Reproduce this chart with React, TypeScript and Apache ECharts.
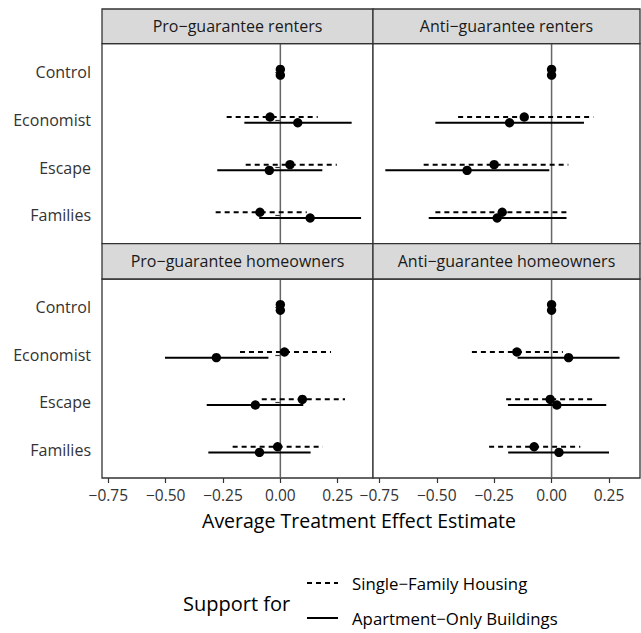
import React, { useEffect, useRef } from "react";
import * as echarts from "echarts";

const categories = ["Control", "Economist", "Escape", "Families"];
const panelTitles = [
  "Pro\u2212guarantee renters",
  "Anti\u2212guarantee renters",
  "Pro\u2212guarantee homeowners",
  "Anti\u2212guarantee homeowners",
];
const xTicks = [-0.75, -0.5, -0.25, 0, 0.25];

// Single-Family Housing (dashed)
const sfEst = [
  [0, -0.045, 0.042, -0.089],
  [0, -0.119, -0.25, -0.215],
  [0, 0.018, 0.096, -0.012],
  [0, -0.151, -0.006, -0.076],
];
const sfLo = [
  [0, -0.234, -0.151, -0.282],
  [0, -0.407, -0.557, -0.506],
  [0, -0.176, -0.081, -0.208],
  [0, -0.347, -0.198, -0.272],
];
const sfHi = [
  [0, 0.163, 0.246, 0.115],
  [0, 0.182, 0.073, 0.076],
  [0, 0.221, 0.282, 0.185],
  [0, 0.049, 0.187, 0.125],
];

// Apartment-Only Buildings (solid)
const apEst = [
  [0, 0.076, -0.048, 0.13],
  [0, -0.183, -0.368, -0.237],
  [0, -0.279, -0.109, -0.091],
  [0, 0.074, 0.023, 0.032],
];
const apLo = [
  [0, -0.157, -0.275, -0.092],
  [0, -0.506, -0.724, -0.535],
  [0, -0.503, -0.321, -0.314],
  [0, -0.148, -0.19, -0.189],
];
const apHi = [
  [0, 0.311, 0.183, 0.352],
  [0, 0.141, -0.01, 0.065],
  [0, -0.052, 0.1, 0.132],
  [0, 0.296, 0.238, 0.25],
];

const FONT = "Open Sans";

export default function App() {
  const ref = useRef<HTMLDivElement>(null);
  useEffect(() => {
    if (!ref.current) return;
    const chart = echarts.init(ref.current, null, { renderer: "svg" });

    const grids = [
      { left: 102, top: 43.7, width: 271, height: 200 },
      { left: 373, top: 43.7, width: 267, height: 200 },
      { left: 102, top: 279, width: 271, height: 199 },
      { left: 373, top: 279, width: 267, height: 199 },
    ];
    const xMax = [0.404, 0.385, 0.404, 0.385];
    const dodge = 0.06;

    const fmt = (v: number) => (v < 0 ? "\u2212" : "") + Math.abs(v).toFixed(2);

    const xAxes = grids.map((_, i) => ({
      type: "value",
      gridIndex: i,
      min: -0.7776,
      max: xMax[i],
      splitLine: { show: false },
      axisLine: { show: false },
      axisTick: {
        show: i >= 2,
        length: 5,
        customValues: xTicks,
        lineStyle: { color: "#333", width: 1.2 },
      },
      axisLabel: {
        show: i >= 2,
        customValues: xTicks,
        formatter: fmt,
        margin: 9,
        fontFamily: FONT,
        fontSize: 15.5,
        lineHeight: 16,
        color: "#333",
      },
    }));
    const yVals = categories.map((_, k) => k + 1);
    const yAxes = grids.map((_, i) => ({
      type: "value",
      gridIndex: i,
      min: 0.4,
      max: 4.6,
      inverse: true,
      splitLine: { show: false },
      axisLine: { show: false },
      axisTick: {
        show: i % 2 === 0,
        length: 5,
        customValues: yVals,
        lineStyle: { color: "#333", width: 1.2 },
      },
      axisLabel: {
        show: i % 2 === 0,
        customValues: yVals,
        formatter: (v: number) => categories[Math.round(v) - 1] || "",
        margin: 11,
        fontFamily: FONT,
        fontSize: 16,
        color: "#333",
      },
    }));

    const renderErr = (dashed: boolean) => (params: any, api: any) => {
      const y = api.value(3);
      const a = api.coord([api.value(0), y]);
      const b = api.coord([api.value(1), y]);
      const p = api.coord([api.value(2), y]);
      return {
        type: "group",
        children: [
          {
            type: "line",
            shape: { x1: a[0], y1: a[1], x2: b[0], y2: b[1] },
            style: {
              stroke: "#000",
              lineWidth: 2,
              lineDash: dashed ? [5, 4] : null,
              fill: null,
            },
          },
          {
            type: "circle",
            shape: { cx: p[0], cy: p[1], r: 4.7 },
            style: { fill: "#000" },
          },
        ],
      };
    };

    const series: any[] = [];
    grids.forEach((_, i) => {
      series.push({
        type: "line",
        xAxisIndex: i,
        yAxisIndex: i,
        data: [
          [0, 0.4],
          [0, 4.6],
        ],
        symbol: "none",
        lineStyle: { color: "#666", width: 1.5 },
        silent: true,
        z: 1,
      });
      series.push({
        type: "custom",
        xAxisIndex: i,
        yAxisIndex: i,
        renderItem: renderErr(true),
        encode: { x: [0, 1, 2], y: 3 },
        data: categories.map((_, k) => [sfLo[i][k], sfHi[i][k], sfEst[i][k], k + 1 - dodge]),
        z: 2,
      });
      series.push({
        type: "custom",
        xAxisIndex: i,
        yAxisIndex: i,
        renderItem: renderErr(false),
        encode: { x: [0, 1, 2], y: 3 },
        data: categories.map((_, k) => [apLo[i][k], apHi[i][k], apEst[i][k], k + 1 + dodge]),
        z: 3,
      });
    });

    const stripY = [9, 9, 243.7, 243.7];
    const stripH = [34.7, 34.7, 35.3, 35.3];
    const graphics: any[] = [];
    grids.forEach((g, i) => {
      graphics.push({
        type: "rect",
        shape: { x: g.left, y: stripY[i], width: g.width, height: stripH[i] },
        style: { fill: "#d9d9d9", stroke: "#333", lineWidth: 1.3 },
        z: 10,
      });
      graphics.push({
        type: "text",
        x: g.left + g.width / 2,
        y: stripY[i] + stripH[i] / 2,
        style: {
          text: panelTitles[i],
          fontFamily: FONT,
          fontSize: 16,
          fill: "#1a1a1a",
          align: "center",
          verticalAlign: "middle",
        },
        z: 11,
      });
    });
    graphics.push({
      type: "text",
      x: 359,
      y: 520,
      style: {
        text: "Average Treatment Effect Estimate",
        fontFamily: FONT,
        fontSize: 19.5,
        lineHeight: 20,
        fill: "#000",
        align: "center",
        verticalAlign: "middle",
      },
    });
    graphics.push({
      type: "text",
      x: 183,
      y: 603,
      style: {
        text: "Support for",
        fontFamily: FONT,
        fontSize: 20,
        fill: "#000",
        align: "left",
        verticalAlign: "middle",
      },
    });
    graphics.push({
      type: "line",
      shape: { x1: 307, y1: 583, x2: 338, y2: 583 },
      style: { stroke: "#000", lineWidth: 2, lineDash: [5, 4] },
    });
    graphics.push({
      type: "line",
      shape: { x1: 307, y1: 618, x2: 338, y2: 618 },
      style: { stroke: "#000", lineWidth: 2 },
    });
    graphics.push({
      type: "text",
      x: 352,
      y: 583,
      style: {
        text: "Single\u2212Family Housing",
        fontFamily: FONT,
        fontSize: 16.8,
        fill: "#000",
        align: "left",
        verticalAlign: "middle",
      },
    });
    graphics.push({
      type: "text",
      x: 352,
      y: 618,
      style: {
        text: "Apartment\u2212Only Buildings",
        fontFamily: FONT,
        fontSize: 16.8,
        fill: "#000",
        align: "left",
        verticalAlign: "middle",
      },
    });

    chart.setOption({
      animation: false,
      backgroundColor: "#fff",
      grid: grids.map((g) => ({
        ...g,
        show: true,
        borderColor: "#333",
        borderWidth: 1.3,
        backgroundColor: "#fff",
      })),
      xAxis: xAxes,
      yAxis: yAxes,
      series,
      graphic: graphics,
    });
    return () => chart.dispose();
  }, []);
  return (
    <div
      ref={ref}
      style={{ position: "fixed", left: 0, top: 0, width: 641, height: 633 }}
    />
  );
}
